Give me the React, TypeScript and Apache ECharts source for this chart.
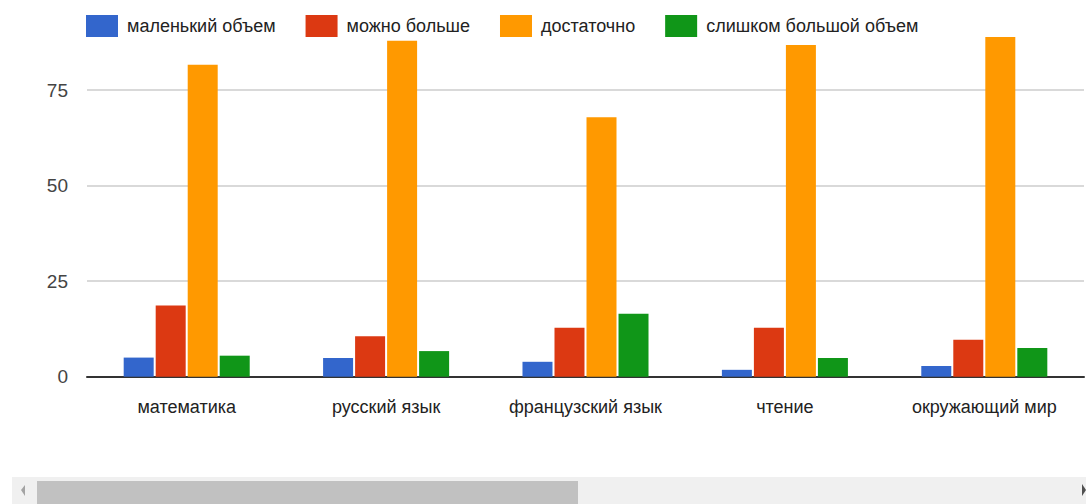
import React, { useEffect, useRef } from "react";
import * as echarts from "echarts";

const categories = ["математика", "русский язык", "французский язык", "чтение", "окружающий мир"];
const seriesNames = ["маленький объем", "можно больше", "достаточно", "слишком большой объем"];
const smallVolume = [5, 4.9, 3.9, 1.8, 2.8];
const canMore = [18.6, 10.6, 12.8, 12.8, 9.7];
const enough = [81.6, 87.9, 67.9, 86.8, 88.9];
const tooMuch = [5.5, 6.7, 16.5, 4.9, 7.5];
const colors = ["#3366cc", "#dc3912", "#ff9900", "#109618"];

const FONT = "'Liberation Sans', Arial, sans-serif";

export default function App() {
  const ref = useRef<HTMLDivElement>(null);
  useEffect(() => {
    if (!ref.current) return;
    const chart = echarts.init(ref.current, undefined, { renderer: "svg" });
    const data = [smallVolume, canMore, enough, tooMuch];
    chart.setOption({
      animation: false,
      color: colors,
      textStyle: { fontFamily: FONT },
      legend: {
        top: 10,
        left: 81,
        itemWidth: 32,
        itemHeight: 22,
        itemGap: 30,
        icon: "rect",
        textStyle: { fontSize: 18, color: "#222", fontFamily: FONT, padding: [0, 0, 0, 4] },
        data: seriesNames,
      },
      grid: { left: 87, right: 2, top: -5.5, bottom: 127.3, outerBoundsMode: "none", containLabel: false },
      xAxis: {
        type: "category",
        data: categories,
        axisTick: { show: false },
        axisLine: { lineStyle: { color: "#333", width: 2 } },
        axisLabel: { fontSize: 18, color: "#222", margin: 21, interval: 0, fontFamily: FONT },
      },
      yAxis: {
        type: "value",
        min: 0,
        max: 100,
        interval: 25,
        axisLine: { show: false },
        axisTick: { show: false },
        splitLine: { lineStyle: { color: "#cccccc", width: 1.5 } },
        axisLabel: { fontSize: 19, color: "#444", margin: 19, showMaxLabel: false, fontFamily: FONT },
      },
      series: seriesNames.map((name, i) => ({
        name,
        type: "bar",
        data: data[i],
        barWidth: 30,
        barGap: "6.7%",
        itemStyle: { color: colors[i] },
      })),
      graphic: [
        { type: "rect", shape: { x: 12, y: 477, width: 1074, height: 27 }, style: { fill: "#f0f0f0" } },
        { type: "rect", shape: { x: 37, y: 481, width: 541, height: 23 }, style: { fill: "#c1c1c1" } },
        { type: "polygon", shape: { points: [[21, 490], [25, 485], [25, 496]] }, style: { fill: "#a3a3a3" } },
        { type: "polygon", shape: { points: [[1082, 484], [1086, 490], [1082, 496]] }, style: { fill: "#505050" } },
      ],
    });
    return () => chart.dispose();
  }, []);
  return (
    <div
      ref={ref}
      style={{ position: "absolute", left: 0, top: 0, width: 1086, height: 504, background: "#fff" }}
    />
  );
}
